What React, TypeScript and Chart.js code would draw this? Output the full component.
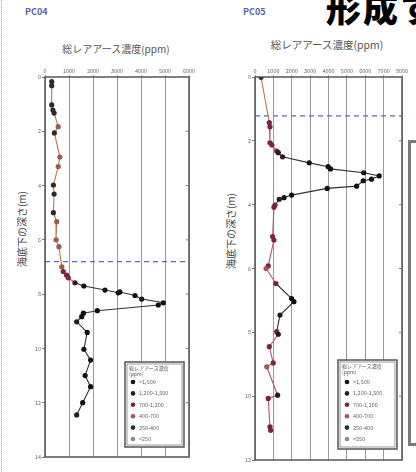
import React, { useEffect, useRef } from "react";
import { Chart, registerables } from "chart.js";
Chart.register(...registerables);

// ---- data ----
const pc04Depth = [0.17, 0.32, 1.03, 1.22, 1.33, 1.83, 2.06, 2.95, 3.3, 3.98, 4.31, 5.0, 5.33, 6.0, 6.25, 6.99, 7.17, 7.3, 7.4, 7.58, 7.7, 7.85, 7.95, 7.92, 8.05, 8.18, 8.32, 8.4, 8.61, 8.7, 8.83, 9.02, 9.41, 10.03, 10.43, 11.0, 11.41, 12.0, 12.45];
const pc04Conc = [280, 280, 280, 330, 380, 550, 390, 620, 550, 350, 380, 350, 490, 460, 580, 700, 760, 900, 970, 1250, 1620, 2500, 3050, 3120, 3750, 4030, 4930, 4720, 2180, 1600, 1530, 1320, 1760, 1620, 1900, 1670, 1900, 1570, 1320];

const pc05Depth = [0.01, 1.43, 1.56, 2.06, 2.13, 2.32, 2.37, 2.5, 2.69, 2.81, 2.88, 3.0, 3.1, 3.2, 3.25, 3.42, 3.49, 3.7, 3.78, 3.83, 4.01, 4.08, 5.0, 5.11, 5.92, 6.0, 6.47, 6.94, 7.04, 7.46, 7.98, 8.06, 8.45, 8.96, 9.08, 9.97, 10.07, 10.96, 11.07];
const pc05Conc = [330, 780, 815, 815, 920, 1180, 1270, 1500, 2950, 3980, 4110, 5920, 6760, 6340, 5890, 5530, 3930, 1990, 1580, 1320, 1090, 1030, 960, 1030, 720, 600, 1140, 1990, 2120, 1360, 1180, 1270, 780, 990, 640, 1230, 720, 815, 850];

const pc04XMax = 6000;
const pc05XMax = 8000;
const pc04YMax = 14;
const pc05YMax = 12;
const pc04Boundary = 6.8;
const pc05Boundary = 1.22;

const chartTitle = "総レアアース濃度(ppm)";
const yTitle = "海底下の深さ(m)";
const legendTitle1 = "総レアアース濃度";
const legendTitle2 = "(ppm)";
const legendLabels = [">1,500", "1,200-1,500", "700-1,200", "400-700", "250-400", "<250"];
const legendLower = [1500, 1200, 700, 400, 250, 0];
const legendColors = ["#111111", "#2b1c1c", "#7a2440", "#9a5a50", "#2e2a2a", "#8a8a8a"];

const FONT = "'Noto Sans CJK JP', 'Noto Sans', sans-serif";

function colorFor(v: number) {
  for (let i = 0; i < legendLower.length; i++) if (v > legendLower[i]) return legendColors[i];
  return legendColors[legendColors.length - 1];
}
function segColor(a: number, b: number) {
  const m = (a + b) / 2;
  if (m < 700) return "#b47a4a";
  if (m < 1200) return "#b8506c";
  return "#333333";
}

const framePlugin = {
  id: "frame",
  afterDraw(chart: any, _args: any, opts: any) {
    const { ctx, chartArea: a, scales } = chart;
    ctx.save();
    ctx.strokeStyle = "#555";
    ctx.lineWidth = 1.5;
    ctx.strokeRect(a.left, a.top, a.right - a.left, a.bottom - a.top);
    const y = scales.y;
    ctx.lineWidth = 1;
    ctx.strokeStyle = "#777";
    y.ticks.forEach((_t: any, i: number) => {
      const py = y.getPixelForTick(i);
      ctx.beginPath();
      ctx.moveTo(a.right - 3, py);
      ctx.lineTo(a.right + 1, py);
      ctx.stroke();
    });
    const L = opts.legend;
    if (L) {
      ctx.fillStyle = "#fff";
      ctx.fillRect(L.x, L.y, L.w, L.h);
      ctx.strokeStyle = "#555";
      ctx.lineWidth = 1.5;
      ctx.strokeRect(L.x, L.y, L.w, L.h);
      ctx.lineWidth = 0.6;
      ctx.strokeRect(L.x + 2, L.y + 2, L.w - 4, L.h - 4);
      ctx.fillStyle = "#555";
      ctx.font = `5px ${FONT}`;
      ctx.textBaseline = "middle";
      ctx.textAlign = "left";
      ctx.fillText(legendTitle1, L.x + 4, L.y + 6);
      ctx.fillText(legendTitle2, L.x + 4, L.y + 12);
      legendLabels.forEach((lab, i) => {
        const ry = L.y + L.row0 + i * 11.4;
        ctx.fillStyle = legendColors[i];
        ctx.beginPath();
        ctx.arc(L.x + L.mx, ry, 2.3, 0, Math.PI * 2);
        ctx.fill();
        ctx.fillStyle = "#666";
        ctx.font = `5.5px ${FONT}`;
        ctx.fillText(lab, L.x + L.tx, ry);
      });
    }
    ctx.restore();
  },
};

type PanelProps = {
  left: number; top: number; width: number; height: number;
  padRight: number; padBottom: number; axisW: number; axisH: number;
  depth: number[]; conc: number[]; xMax: number; yMax: number; boundary: number;
  legend: any;
};

function Panel(p: PanelProps) {
  const ref = useRef<HTMLCanvasElement | null>(null);
  useEffect(() => {
    if (!ref.current) return;
    const pts = p.depth.map((d, i) => ({ x: p.conc[i], y: d }));
    const chart = new Chart(ref.current, {
      type: "scatter",
      data: {
        datasets: [
          {
            data: pts,
            showLine: true,
            borderWidth: 1.1,
            borderColor: "#333",
            pointRadius: 2.6,
            pointBorderWidth: 0,
            pointBackgroundColor: (c: any) => colorFor(c.raw ? c.raw.x : 0),
            segment: {
              borderColor: (c: any) => segColor(c.p0.parsed.x, c.p1.parsed.x),
            },
          } as any,
          {
            data: [{ x: 0, y: p.boundary }, { x: p.xMax, y: p.boundary }],
            showLine: true,
            borderColor: "#5b68c8",
            borderWidth: 1.2,
            borderDash: [5, 4],
            pointRadius: 0,
          } as any,
        ],
      },
      options: {
        animation: false,
        responsive: false,
        layout: { padding: { left: 0, top: 0, right: p.padRight, bottom: p.padBottom } },
        plugins: {
          legend: { display: false },
          tooltip: { enabled: false },
          frame: { legend: p.legend },
        } as any,
        scales: {
          x: {
            type: "linear",
            position: "top",
            min: 0,
            max: p.xMax,
            afterFit: (s: any) => { s.height = p.axisH; },
            ticks: {
              stepSize: 1000,
              autoSkip: false,
              maxRotation: 0,
              padding: 1,
              color: "#666",
              font: { size: 5.5, family: FONT },
              callback: (v: any) => String(v),
            },
            grid: { color: "#9a9a9a", lineWidth: 1, tickLength: 2 },
            border: { display: false },
          },
          y: {
            type: "linear",
            reverse: true,
            min: 0,
            max: p.yMax,
            afterFit: (s: any) => { s.width = p.axisW; },
            ticks: {
              stepSize: 2,
              padding: 1,
              color: "#666",
              font: { size: 5.5, family: FONT },
            },
            grid: { drawOnChartArea: false, color: "#777", tickLength: 3 },
            border: { display: false },
          },
        },
      } as any,
      plugins: [framePlugin as any],
    });
    return () => chart.destroy();
  }, []);
  return (
    <canvas
      ref={ref}
      width={p.width}
      height={p.height}
      style={{ position: "absolute", left: p.left, top: p.top, width: p.width, height: p.height }}
    />
  );
}

const txt = (s: any) => ({ position: "absolute" as const, fontFamily: FONT, whiteSpace: "nowrap" as const, ...s });

export default function App() {
  return (
    <div style={{ position: "fixed", left: 0, top: 0, width: 416, height: 472, background: "#fff", overflow: "hidden" }}>
      <div style={{ position: "absolute", left: 1, top: 0, height: 472, borderLeft: "1px dotted #b0b0b0" }} />
      <div style={txt({ left: 25, top: 6, fontSize: 9, fontWeight: 700, color: "#5563a8", lineHeight: "12px" })}>PC04</div>
      <div style={txt({ left: 243, top: 6, fontSize: 9, fontWeight: 700, color: "#5563a8", lineHeight: "12px" })}>PC05</div>
      <div style={txt({ left: 326, top: -11, fontSize: 35, fontWeight: 900, color: "#000", lineHeight: "36px", letterSpacing: "2px" })}>形成す</div>
      <div style={txt({ left: 116, top: 49, fontSize: 10, color: "#555", lineHeight: "12px", transform: "translate(-50%,-50%)" })}>{chartTitle}</div>
      <div style={txt({ left: 327, top: 45, fontSize: 10.5, color: "#555", lineHeight: "12px", transform: "translate(-50%,-50%)" })}>{chartTitle}</div>
      <div style={txt({ left: 22, top: 229, fontSize: 10, color: "#444", lineHeight: "12px", transform: "translate(-50%,-50%) rotate(-90deg)" })}>{yTitle}</div>
      <div style={txt({ left: 231, top: 231, fontSize: 10, color: "#444", lineHeight: "12px", transform: "translate(-50%,-50%) rotate(-90deg)" })}>{yTitle}</div>
      <Panel
        left={0} top={60} width={200} height={410}
        padRight={11} padBottom={13} axisW={45} axisH={17}
        depth={pc04Depth} conc={pc04Conc} xMax={pc04XMax} yMax={pc04YMax} boundary={pc04Boundary}
        legend={{ x: 125, y: 302, w: 59, h: 85, row0: 20, mx: 8, tx: 14 }}
      />
      <Panel
        left={210} top={60} width={200} height={410}
        padRight={8} padBottom={10} axisW={45} axisH={17}
        depth={pc05Depth} conc={pc05Conc} xMax={pc05XMax} yMax={pc05YMax} boundary={pc05Boundary}
        legend={{ x: 128, y: 300, w: 59, h: 89, row0: 22, mx: 9, tx: 15 }}
      />
      <div style={{ position: "absolute", left: 408, top: 140, width: 20, height: 300, border: "3px solid #7a7a7a", background: "#fff" }} />
    </div>
  );
}
